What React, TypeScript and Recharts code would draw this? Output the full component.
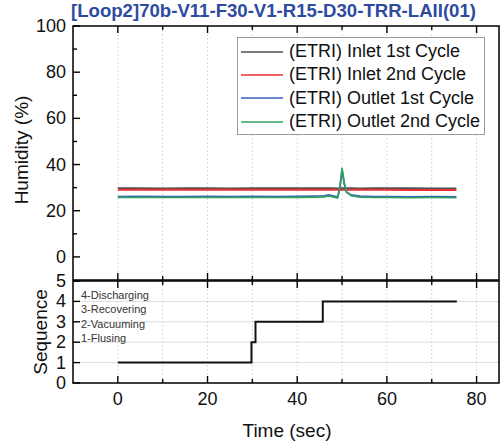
import React from 'react';
import { LineChart, Line, XAxis, YAxis, CartesianGrid, Legend, ReferenceArea } from 'recharts';

// humidity traces
const time = [0, 5, 10, 15, 20, 25, 30, 35, 40, 44, 46, 47, 48, 49, 49.5, 50, 50.5, 51, 52, 54, 57, 60, 65, 70, 75.5];
const inlet1st = [29.8, 29.8, 29.7, 29.8, 29.8, 29.7, 29.8, 29.8, 29.8, 29.8, 29.8, 29.8, 29.8, 29.7, 29.7, 29.8, 29.8, 29.8, 29.8, 29.7, 29.8, 29.8, 29.8, 29.7, 29.7];
const inlet2nd = [29.1, 29.1, 29.1, 29.1, 29.1, 29.1, 29.1, 29.1, 29.1, 29.1, 29.1, 29.1, 29.1, 29.1, 29.1, 29.1, 29.1, 29.1, 29.1, 29.1, 29.1, 29.1, 29.0, 29.0, 29.0];
const outlet1st = [26.1, 26.2, 26.1, 26.1, 26.2, 26.1, 26.2, 26.1, 26.2, 26.3, 26.4, 26.8, 26.4, 25.9, 29.5, 37.5, 31.5, 28.0, 26.9, 26.3, 26.1, 26.1, 26.0, 26.1, 26.0];
const outlet2nd = [25.7, 25.8, 25.7, 25.7, 25.8, 25.7, 25.8, 25.7, 25.8, 25.9, 26.0, 26.4, 26.0, 25.5, 30.0, 38.6, 32.0, 28.2, 26.5, 25.9, 25.7, 25.7, 25.6, 25.7, 25.6];

// operation sequence
const seqTime = [0, 29.8, 30.7, 45.7, 75.6];
const seqValue = [1, 2, 3, 4, 4];
const seqNames = ['4-Discharging', '3-Recovering', '2-Vacuuming', '1-Flusing'];

const seriesNames = ['(ETRI) Inlet 1st Cycle', '(ETRI) Inlet 2nd Cycle', '(ETRI) Outlet 1st Cycle', '(ETRI) Outlet 2nd Cycle'];
const seriesColors = ['#505050', '#ea2f35', '#3a5fbf', '#2ea35c'];

const xTicks = [0, 10, 20, 30, 40, 50, 60, 70, 80];
const xMajor = [0, 20, 40, 60, 80];
const humTicks = [0, 10, 20, 30, 40, 50, 60, 70, 80, 90, 100];
const humMajor = [0, 20, 40, 60, 80, 100];
const seqTicks = [0, 1, 2, 3, 4, 5];

const humData = time.map((t, i) => ({
  t,
  in1: inlet1st[i],
  in2: inlet2nd[i],
  out1: outlet1st[i],
  out2: outlet2nd[i],
}));
const seqData = seqTime.map((t, i) => ({ t, seq: seqValue[i] }));

const FONT = '"Liberation Sans", Arial, sans-serif';
const X_DOMAIN = [-10, 85];

// inward tick marks, optional label outside the frame
function InTick(props: any) {
  const { x, y, payload, side, majors, label } = props;
  const v = payload.value;
  const len = majors.includes(v) ? 7 : 4;
  let x2 = x;
  let y2 = y;
  if (side === 'left') x2 = x + len;
  if (side === 'right') x2 = x - len;
  if (side === 'top') y2 = y + len;
  if (side === 'bottom') y2 = y - len;
  let text = null;
  if (label && majors.includes(v)) {
    if (side === 'left') {
      text = (
        <text x={x - 7} y={y} dy={6} textAnchor="end" fontSize={18} fill="#111" fontFamily={FONT}>
          {v}
        </text>
      );
    } else if (side === 'bottom') {
      text = (
        <text x={x} y={y + 22} textAnchor="middle" fontSize={18} fill="#111" fontFamily={FONT}>
          {v}
        </text>
      );
    }
  }
  return (
    <g>
      <line x1={x} y1={y} x2={x2} y2={y2} stroke="#000" strokeWidth={1.4} />
      {text}
    </g>
  );
}

function LegendBox(props: any) {
  const { payload } = props;
  return (
    <div
      style={{
        border: '1px solid #9a9a9a',
        background: '#fff',
        width: 248,
        height: 98,
        boxSizing: 'border-box',
        paddingTop: 2,
        fontFamily: FONT,
        textAlign: 'left',
      }}
    >
      {(payload || []).map((p: any) => (
        <div key={p.value} style={{ display: 'flex', alignItems: 'center', height: 23.3 }}>
          <svg width={49} height={10} style={{ marginLeft: 2 }}>
            <line x1={1} y1={5} x2={43} y2={5} stroke={p.color} strokeWidth={1.5} />
          </svg>
          <span style={{ fontSize: 18, color: '#111', whiteSpace: 'nowrap' }}>{p.value}</span>
        </div>
      ))}
    </div>
  );
}

function axisProps(side: string, majors: number[], label = false) {
  return {
    tickSize: 0,
    tickMargin: 0,
    interval: 0 as const,
    axisLine: false,
    tickLine: false,
    tick: (p: any) => <InTick {...p} side={side} majors={majors} label={label} />,
  };
}

export default function App() {
  return (
    <div
      style={{
        position: 'absolute',
        left: 0,
        top: 0,
        width: 500,
        height: 445,
        background: '#fff',
        fontFamily: FONT,
        overflow: 'hidden',
      }}
    >
      <div
        style={{
          position: 'absolute',
          left: 0,
          width: 500,
          top: 0,
          textAlign: 'center',
          paddingLeft: 47,
          boxSizing: 'border-box',
          fontSize: 18.6,
          fontWeight: 'bold',
          color: '#2e4c9f',
          whiteSpace: 'nowrap',
        }}
      >
        [Loop2]70b-V11-F30-V1-R15-D30-TRR-LAII(01)
      </div>

      <div style={{ position: 'absolute', left: 0, top: 0 }}>
        <LineChart width={500} height={281} data={humData} margin={{ top: 0, right: 0, bottom: 0, left: 0 }}>
          <CartesianGrid horizontal={false} stroke="#d8d8d8" strokeDasharray="2 2" />
          <XAxis xAxisId={0} dataKey="t" type="number" domain={X_DOMAIN} ticks={xTicks} orientation="top" height={26} {...axisProps('top', xMajor)} />
          <XAxis xAxisId="b" dataKey="t" type="number" domain={X_DOMAIN} ticks={xTicks} orientation="bottom" height={1} {...axisProps('bottom', xMajor)} />
          <YAxis yAxisId={0} type="number" domain={[-10, 100]} ticks={humTicks} width={73} {...axisProps('left', humMajor, true)} />
          <YAxis yAxisId="r" orientation="right" type="number" domain={[-10, 100]} ticks={humTicks} width={1} {...axisProps('right', humMajor)} />
          <ReferenceArea xAxisId={0} yAxisId={0} x1={-10} x2={85} y1={-10} y2={100} fill="none" stroke="#000" strokeWidth={1.5} ifOverflow="visible" />
          <Legend
            layout="horizontal"
            verticalAlign="middle"
            align="center"
            content={<LegendBox />}
            wrapperStyle={{ position: 'absolute', left: 237, top: 37, width: 248, height: 98 }}
          />
          <Line xAxisId={0} yAxisId={0} dataKey="in1" name={seriesNames[0]} stroke={seriesColors[0]} strokeWidth={1.8} dot={false} isAnimationActive={false} />
          <Line xAxisId={0} yAxisId={0} dataKey="in2" name={seriesNames[1]} stroke={seriesColors[1]} strokeWidth={2} dot={false} isAnimationActive={false} />
          <Line xAxisId={0} yAxisId={0} dataKey="out1" name={seriesNames[2]} stroke={seriesColors[2]} strokeWidth={1.8} dot={false} isAnimationActive={false} />
          <Line xAxisId={0} yAxisId={0} dataKey="out2" name={seriesNames[3]} stroke={seriesColors[3]} strokeWidth={1.6} dot={false} isAnimationActive={false} />
        </LineChart>
      </div>

      <div style={{ position: 'absolute', left: 0, top: 270 }}>
        <LineChart width={500} height={175} data={seqData} margin={{ top: 0, right: 0, bottom: 0, left: 0 }}>
          <CartesianGrid horizontal={false} stroke="#d8d8d8" strokeDasharray="2 2" />
          <CartesianGrid vertical={false} stroke="#dcdcdc" horizontalValues={[1, 2, 3, 4]} />
          <XAxis xAxisId={0} dataKey="t" type="number" domain={X_DOMAIN} ticks={xTicks} orientation="bottom" height={62} {...axisProps('bottom', xMajor, true)} />
          <XAxis xAxisId="t" dataKey="t" type="number" domain={X_DOMAIN} ticks={xTicks} orientation="top" height={11} {...axisProps('top', xMajor)} />
          <YAxis yAxisId={0} type="number" domain={[0, 5]} ticks={seqTicks} width={73} {...axisProps('left', seqTicks, true)} />
          <YAxis yAxisId="r" orientation="right" type="number" domain={[0, 5]} ticks={seqTicks} width={1} {...axisProps('right', seqTicks)} />
          <ReferenceArea xAxisId={0} yAxisId={0} x1={-10} x2={85} y1={0} y2={5} fill="none" stroke="#000" strokeWidth={1.5} ifOverflow="visible" />
          <Line
            xAxisId={0}
            yAxisId={0}
            dataKey="seq"
            type="stepAfter"
            stroke="#111"
            strokeWidth={2}
            dot={false}
            isAnimationActive={false}
          />
        </LineChart>
      </div>

      {seqNames.map((s, i) => (
        <div
          key={s}
          style={{
            position: 'absolute',
            left: 81,
            top: 289 + i * 14.3,
            fontSize: 11,
            color: '#333',
            whiteSpace: 'nowrap',
          }}
        >
          {s}
        </div>
      ))}

      <div
        style={{
          position: 'absolute',
          left: 22,
          top: 150,
          transform: 'translate(-50%, -50%) rotate(-90deg)',
          fontSize: 19,
          color: '#111',
          whiteSpace: 'nowrap',
        }}
      >
        Humidity (%)
      </div>
      <div
        style={{
          position: 'absolute',
          left: 41,
          top: 332,
          transform: 'translate(-50%, -50%) rotate(-90deg)',
          fontSize: 19,
          color: '#111',
          whiteSpace: 'nowrap',
        }}
      >
        Sequence
      </div>
      <div
        style={{
          position: 'absolute',
          left: 287,
          top: 431,
          transform: 'translate(-50%, -50%)',
          fontSize: 19,
          color: '#111',
          whiteSpace: 'nowrap',
        }}
      >
        Time (sec)
      </div>
    </div>
  );
}
